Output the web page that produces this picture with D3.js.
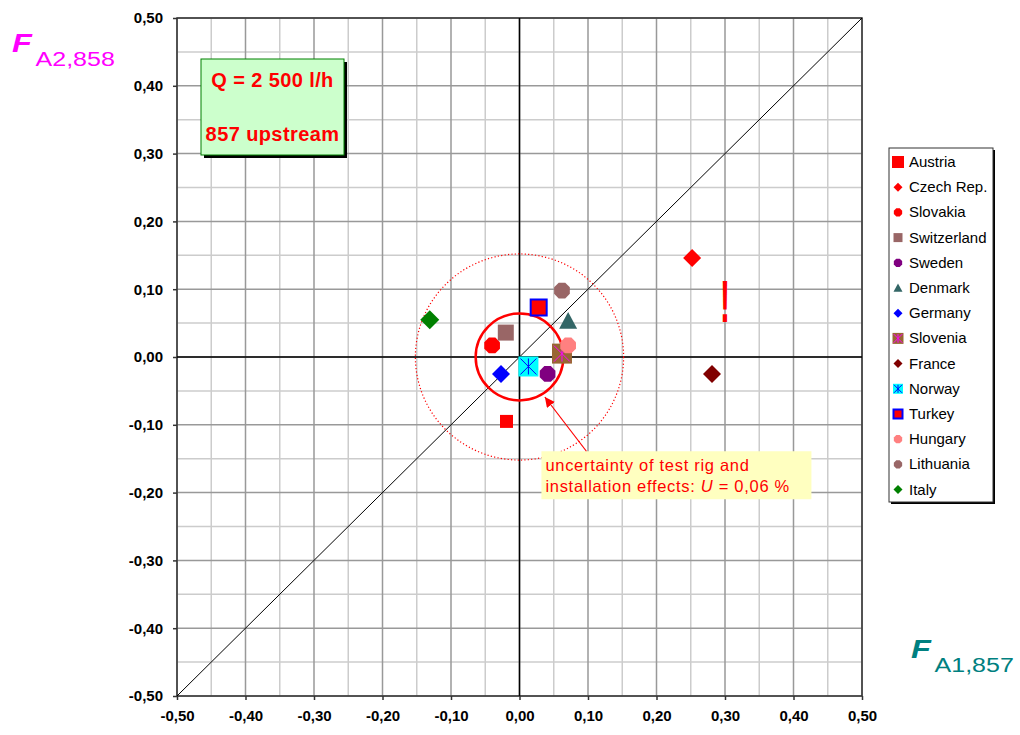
<!DOCTYPE html>
<html>
<head>
<meta charset="utf-8">
<script src="https://cdn.jsdelivr.net/npm/d3@7"></script>
<style>
  html, body { margin: 0; padding: 0; background: #ffffff; }
  svg { display: block; font-family: "Liberation Sans", Arial, sans-serif; }
</style>
</head>
<body>
<svg id="chart" width="1020" height="735"></svg>
<script>
// Participants and their results (F_A1,857 on x, F_A2,858 on y), in %
const countries = ["Austria", "Czech Rep.", "Slovakia", "Switzerland", "Sweden", "Denmark", "Germany",
                   "Slovenia", "France", "Norway", "Turkey", "Hungary", "Lithuania", "Italy"];
const fA1 = [-0.019, 0.252, -0.040, -0.020, 0.041, 0.071, -0.027, 0.062, 0.281, 0.013, 0.028, 0.071, 0.062, -0.131];
const fA2 = [-0.095, 0.146, 0.017, 0.036, -0.025, 0.053, -0.025, 0.005, -0.025, -0.014, 0.073, 0.017, 0.098, 0.055];

// Marker style per participant
const shapes = ["square", "diamond", "octagon", "square", "octagon", "triangle", "diamond",
                "square", "diamond", "square", "square", "octagon", "octagon", "diamond"];
const fills  = ["#ff0000", "#ff0000", "#ff0000", "#996666", "#800080", "#336666", "#0000ff",
                "#996633", "#800000", "#00ffff", "#ff0000", "#ff8080", "#996666", "#008000"];
const strokes = [null, null, null, null, null, null, null, null, null, null, "#0000ff", null, null, null];
const stars   = [null, null, null, null, null, null, null, "#ff00ff", null, "#0000ff", null, null, null, null];
const sizes   = [13, 18, 17, 16, 17, 18, 18, 20, 18, 20, 16, 17, 17, 19];
const legendSizes = [12, 9, 9, 9, 9, 9, 9, 11, 9, 10, 9, 9, 9, 9];

// Axis ticks
const majorTicks = d3.range(-5, 6).map(d => d / 10);
const minorTicks = d3.range(-10, 11).filter(d => d % 2 !== 0).map(d => d / 20);
const tickLabel = v => d3.format(".2f")(v).replace(".", ",").replace("−", "-");

// Uncertainty circles (radius in %)
const uInner = 0.064;
const uOuter = 0.152;

const svg = d3.select("#chart");
const x = d3.scaleLinear().domain([-0.5, 0.5]).range([177, 862]);
const y = d3.scaleLinear().domain([-0.5, 0.5]).range([696, 18]);

// Grid
const grid = svg.append("g");
grid.selectAll("line.vmin").data(minorTicks).join("line")
  .attr("x1", d => x(d)).attr("x2", d => x(d)).attr("y1", y(0.5)).attr("y2", y(-0.5))
  .attr("stroke", "#cccccc").attr("stroke-width", 1.5);
grid.selectAll("line.hmin").data(minorTicks).join("line")
  .attr("y1", d => y(d)).attr("y2", d => y(d)).attr("x1", x(-0.5)).attr("x2", x(0.5))
  .attr("stroke", "#cccccc").attr("stroke-width", 1.5);
grid.selectAll("line.vmaj").data(majorTicks).join("line")
  .attr("x1", d => x(d)).attr("x2", d => x(d)).attr("y1", y(0.5)).attr("y2", y(-0.5))
  .attr("stroke", "#999999").attr("stroke-width", 1.5);
grid.selectAll("line.hmaj").data(majorTicks).join("line")
  .attr("y1", d => y(d)).attr("y2", d => y(d)).attr("x1", x(-0.5)).attr("x2", x(0.5))
  .attr("stroke", "#999999").attr("stroke-width", 1.5);

// Axes with ticks
const xAxis = d3.axisBottom(x).tickValues(majorTicks).tickSize(4).tickPadding(10).tickFormat(tickLabel);
const yAxis = d3.axisLeft(y).tickValues(majorTicks).tickSize(4).tickPadding(10).tickFormat(tickLabel);
const gx = svg.append("g").attr("transform", `translate(0,${y(-0.5)})`).call(xAxis);
const gy = svg.append("g").attr("transform", `translate(${x(-0.5)},0)`).call(yAxis);
[gx, gy].forEach(g => {
  g.select(".domain").remove();
  g.selectAll(".tick line").attr("stroke", "#333333").attr("stroke-width", 1.5);
  g.selectAll(".tick text").attr("font-family", "Liberation Sans, Arial, sans-serif")
    .attr("font-size", 15).attr("font-weight", "bold").attr("fill", "#000000");
});

// Frame
svg.append("rect").attr("x", x(-0.5)).attr("y", y(0.5))
  .attr("width", x(0.5) - x(-0.5)).attr("height", y(-0.5) - y(0.5))
  .attr("fill", "none").attr("stroke", "#333333").attr("stroke-width", 1.5);

// Zero lines and 1:1 diagonal
svg.append("line").attr("x1", x(0)).attr("x2", x(0)).attr("y1", y(0.5)).attr("y2", y(-0.5))
  .attr("stroke", "#000000").attr("stroke-width", 1.5);
svg.append("line").attr("x1", x(-0.5)).attr("x2", x(0.5)).attr("y1", y(0)).attr("y2", y(0))
  .attr("stroke", "#000000").attr("stroke-width", 1.5);
svg.append("line").attr("x1", x(-0.5)).attr("y1", y(-0.5)).attr("x2", x(0.5)).attr("y2", y(0.5))
  .attr("stroke", "#000000").attr("stroke-width", 1);

// Uncertainty circles
svg.append("ellipse").attr("cx", x(0)).attr("cy", y(0))
  .attr("rx", x(uOuter) - x(0)).attr("ry", y(0) - y(uOuter))
  .attr("fill", "none").attr("stroke", "#ff0000").attr("stroke-width", 1.2)
  .attr("stroke-dasharray", "1.2,2.2");
svg.append("ellipse").attr("cx", x(0)).attr("cy", y(0))
  .attr("rx", x(uInner) - x(0)).attr("ry", y(0) - y(uInner))
  .attr("fill", "none").attr("stroke", "#ff0000").attr("stroke-width", 2.5);

// Marker path builder (s = full width in px)
function markerPath(type, s) {
  const h = s / 2;
  if (type === "square") return `M${-h},${-h}H${h}V${h}H${-h}Z`;
  if (type === "diamond") return `M0,${-h}L${h},0L0,${h}L${-h},0Z`;
  if (type === "triangle") return `M0,${-h}L${h},${h * 0.85}L${-h},${h * 0.85}Z`;
  // octagon
  const pts = d3.range(8).map(i => {
    const a = Math.PI / 8 + i * Math.PI / 4;
    const r = h / Math.cos(Math.PI / 8);
    return [r * Math.cos(a) * Math.cos(Math.PI / 8), r * Math.sin(a) * Math.cos(Math.PI / 8)];
  });
  return "M" + pts.map(p => p.join(",")).join("L") + "Z";
}
function starPath(s) {
  const h = s * 0.4;
  return `M0,${-h}V${h}M${-h},${-h}L${h},${h}M${h},${-h}L${-h},${h}`;
}
function drawMarker(g, i, s) {
  g.append("path").attr("d", markerPath(shapes[i], s)).attr("fill", fills[i])
    .attr("stroke", strokes[i] || "none").attr("stroke-width", strokes[i] ? 2 : 0);
  if (stars[i]) {
    g.append("path").attr("d", starPath(s)).attr("fill", "none")
      .attr("stroke", stars[i]).attr("stroke-width", 1);
  }
}

// Data points
const pts = svg.append("g");
countries.forEach((c, i) => {
  const g = pts.append("g").attr("transform", `translate(${x(fA1[i])},${y(fA2[i])})`);
  drawMarker(g, i, sizes[i]);
});

// Exclamation mark flagging the outliers
svg.append("text").attr("transform", `translate(${x(0.30)},${y(0.05) - 1}) scale(0.5,1)`)
  .attr("text-anchor", "middle").attr("font-size", 60).attr("font-weight", "bold")
  .attr("fill", "#ff0000").text("!");

// Annotation box with arrow
const annX = x(0.032), annY = y(-0.139);
svg.append("rect").attr("x", annX).attr("y", annY).attr("width", 270).attr("height", 48)
  .attr("fill", "#ffffc0");
const ann = svg.append("text").attr("font-size", 16.5).attr("letter-spacing", 0.7).attr("fill", "#ff0000");
ann.append("tspan").attr("x", annX + 4).attr("y", annY + 20).text("uncertainty of test rig and");
const l2 = ann.append("tspan").attr("x", annX + 4).attr("y", annY + 41);
l2.append("tspan").text("installation effects: ");
l2.append("tspan").attr("font-style", "italic").text("U");
l2.append("tspan").text(" = 0,06 %");

svg.append("defs").append("marker").attr("id", "arrowhead")
  .attr("viewBox", "0 0 10 10").attr("refX", 10).attr("refY", 5)
  .attr("markerWidth", 10).attr("markerHeight", 10).attr("markerUnits", "userSpaceOnUse")
  .attr("orient", "auto")
  .append("path").attr("d", "M0,0L10,5L0,10Z").attr("fill", "#ff0000");
svg.append("line").attr("x1", annX + 45).attr("y1", annY)
  .attr("x2", x(0.037)).attr("y2", y(-0.059))
  .attr("stroke", "#ff0000").attr("stroke-width", 1.2).attr("marker-end", "url(#arrowhead)");

// Flow rate box
const qb = svg.append("g");
qb.append("rect").attr("x", 204).attr("y", 62).attr("width", 143).attr("height", 96).attr("fill", "#000000");
qb.append("rect").attr("x", 201).attr("y", 59).attr("width", 143).attr("height", 96)
  .attr("fill", "#ccffcc").attr("stroke", "#008000").attr("stroke-width", 1);
qb.append("text").attr("x", 272.5).attr("y", 87).attr("text-anchor", "middle")
  .attr("font-size", 20).attr("letter-spacing", 0.4).attr("font-weight", "bold").attr("fill", "#ff0000").text("Q = 2 500 l/h");
qb.append("text").attr("x", 272.5).attr("y", 141).attr("text-anchor", "middle")
  .attr("font-size", 20).attr("letter-spacing", 0.4).attr("font-weight", "bold").attr("fill", "#ff0000").text("857 upstream");

// Axis titles
function axisTitle(px, py, sub, color) {
  const t = svg.append("text").attr("transform", `translate(${px},${py}) scale(1.25,1)`).attr("fill", color);
  t.append("tspan").attr("font-size", 26).attr("font-weight", "bold").attr("font-style", "italic").text("F");
  t.append("tspan").attr("font-size", 20).attr("dx", 3).attr("dy", 14).text(sub);
}
axisTitle(12, 52, "A2,858", "#ff00ff");
axisTitle(911, 658, "A1,857", "#008080");

// Legend
const lg = svg.append("g").attr("transform", "translate(889,148)");
lg.append("rect").attr("x", 2).attr("y", 2).attr("width", 104).attr("height", 354).attr("fill", "#000000");
lg.append("rect").attr("width", 104).attr("height", 354).attr("fill", "#ffffff")
  .attr("stroke", "#333333").attr("stroke-width", 1);
countries.forEach((c, i) => {
  const cy = 14 + i * 25.2;
  const g = lg.append("g").attr("transform", `translate(9,${cy})`);
  drawMarker(g, i, legendSizes[i]);
  lg.append("text").attr("x", 20).attr("y", cy + 5).attr("font-size", 15)
    .attr("fill", "#000000").text(c);
});
</script>
</body>
</html>
